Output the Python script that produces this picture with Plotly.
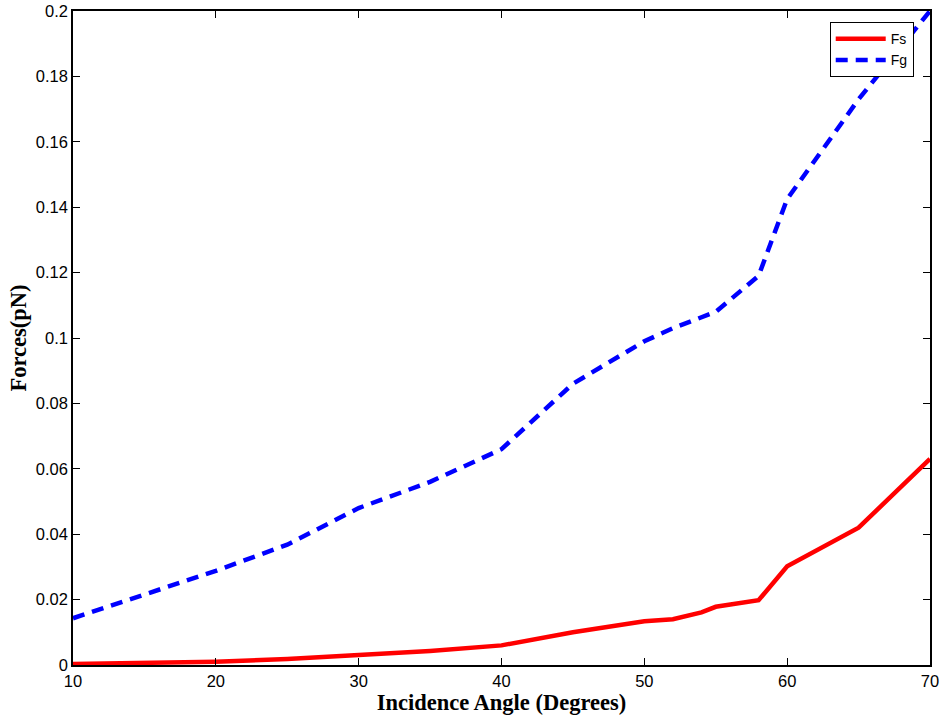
import plotly.graph_objects as go

angles = [10, 20, 25, 30, 35, 40, 45, 50, 52, 54, 55, 58, 60, 65, 70]
fs = [0.0003, 0.001, 0.0018, 0.003, 0.0043, 0.006, 0.0100, 0.0134, 0.0140, 0.0161, 0.0178, 0.0198, 0.0302, 0.0420, 0.0630]
fg_angles = [10, 20, 25, 30, 35, 40, 45, 50, 52, 55, 58, 60, 65, 70]
fg = [0.0143, 0.0288, 0.0368, 0.0480, 0.0560, 0.0660, 0.0860, 0.0990, 0.1030, 0.1080, 0.1190, 0.1425, 0.1730, 0.2000]

ytick_vals = [0, 0.02, 0.04, 0.06, 0.08, 0.1, 0.12, 0.14, 0.16, 0.18, 0.2]
ytick_text = ["0", "0.02", "0.04", "0.06", "0.08", "0.1", "0.12", "0.14", "0.16", "0.18", "0.2"]
xtick_vals = [10, 20, 30, 40, 50, 60, 70]

fig = go.Figure()
fig.add_trace(go.Scatter(x=angles, y=fs, mode="lines", name="Fs",
                         line=dict(color="#ff0000", width=4.5)))
fig.add_trace(go.Scatter(x=fg_angles, y=fg, mode="lines", name="Fg",
                         line=dict(color="#0000ff", width=4.5, dash="12px,8px")))

axis_common = dict(showgrid=False, zeroline=False, showline=True, linecolor="black",
                   linewidth=1.5, mirror="ticks", ticks="inside", ticklen=7,
                   tickcolor="black", automargin=False, ticklabeloverflow="allow",
                   tickfont=dict(family="Liberation Sans", size=16.5, color="black"))

fig.update_xaxes(range=[10, 70], tickvals=xtick_vals,
                 title=dict(text="<b>Incidence Angle (Degrees)</b>", standoff=2,
                            font=dict(family="Liberation Serif", size=22.5, color="black")),
                 **axis_common)
fig.update_yaxes(range=[0, 0.2], tickvals=ytick_vals, ticktext=ytick_text,
                 title=dict(text="<b>Forces(pN)</b>", standoff=3,
                            font=dict(family="Liberation Serif", size=22.5, color="black")),
                 **axis_common)

fig.update_layout(
    width=941, height=716,
    margin=dict(l=73, r=11, t=11, b=51),
    paper_bgcolor="white", plot_bgcolor="white",
    showlegend=True,
    legend=dict(x=0.981, y=0.983, xanchor="right", yanchor="top",
                bgcolor="white", bordercolor="black", borderwidth=1,
                font=dict(family="Liberation Sans", size=14, color="black"),
                tracegroupgap=0, itemwidth=50),
)

fig.write_html("out.html", config={"displayModeBar": False},
               post_script="document.body.style.margin='0';document.body.style.overflow='hidden';")
